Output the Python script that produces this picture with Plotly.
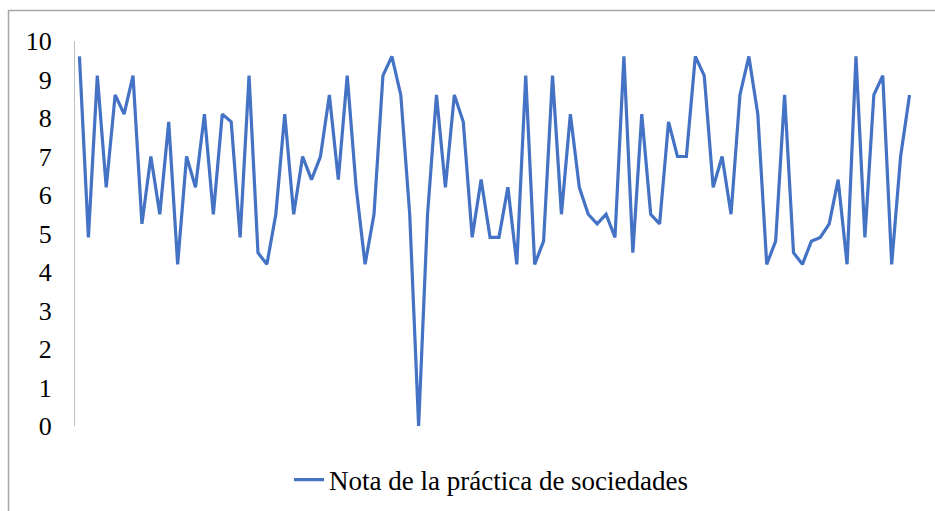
import plotly.graph_objects as go

series_name = "Nota de la práctica de sociedades"
notas = [
    9.6, 4.9, 9.1, 6.2, 8.6, 8.1, 9.1, 5.25, 7.0, 5.5,
    7.9, 4.2, 7.0, 6.2, 8.1, 5.5, 8.1, 7.9, 4.9, 9.1,
    4.5, 4.2, 5.5, 8.1, 5.5, 7.0, 6.4, 7.0, 8.6, 6.4,
    9.1, 6.2, 4.2, 5.5, 9.1, 9.6, 8.6, 5.5, 0.0, 5.5,
    8.6, 6.2, 8.6, 7.9, 4.9, 6.4, 4.9, 4.9, 6.2, 4.2,
    9.1, 4.2, 4.8, 9.1, 5.5, 8.1, 6.2, 5.5, 5.25, 5.5,
    4.9, 9.6, 4.5, 8.1, 5.5, 5.25, 7.9, 7.0, 7.0, 9.6,
    9.1, 6.2, 7.0, 5.5, 8.6, 9.6, 8.1, 4.2, 4.8, 8.6,
    4.5, 4.2, 4.8, 4.9, 5.25, 6.4, 4.2, 9.6, 4.9, 8.6,
    9.1, 4.2, 7.0, 8.6,
]
categorias = list(range(1, len(notas) + 1))
y_ticks = list(range(0, 11))

font_family = "Liberation Serif, Times New Roman, serif"

fig = go.Figure()
fig.add_trace(go.Scatter(
    x=categorias, y=notas, mode="lines", name=series_name,
    line=dict(color="#4472C4", width=3.2),
))

L, R, T, B = 75, 21, 41, 85
W, H = 935, 511
pw = W - L - R
ph = H - T - B

fig.update_layout(
    width=W, height=H,
    margin=dict(l=L, r=R, t=T, b=B, autoexpand=False),
    paper_bgcolor="white", plot_bgcolor="white",
    font=dict(family=font_family, size=27, color="#000000"),
    showlegend=True,
    legend=dict(
        orientation="h", xanchor="left", yanchor="middle",
        x=(289 - L) / pw, y=(H - B - 480) / ph,
        font=dict(family=font_family, size=27, color="#000000"),
        bgcolor="rgba(0,0,0,0)",
    ),
    xaxis=dict(
        range=[0.5, len(notas) + 0.5], showgrid=False, zeroline=False,
        showline=False, showticklabels=False, ticks="",
    ),
    yaxis=dict(
        range=[0, 10], tickvals=y_ticks, showgrid=False, zeroline=False,
        showline=True, linecolor="#BFBFBF", linewidth=1,
        ticks="", ticklabelstandoff=17,
        tickfont=dict(family=font_family, size=26, color="#000000"),
    ),
    shapes=[dict(
        type="rect", xref="paper", yref="paper",
        x0=(8.5 - L) / pw, x1=1.3, y0=-0.6, y1=(H - B - 10.5) / ph,
        line=dict(color="#A6A6A6", width=1.5), fillcolor="rgba(0,0,0,0)",
        layer="below",
    )],
)

fig.write_html("out.html")
